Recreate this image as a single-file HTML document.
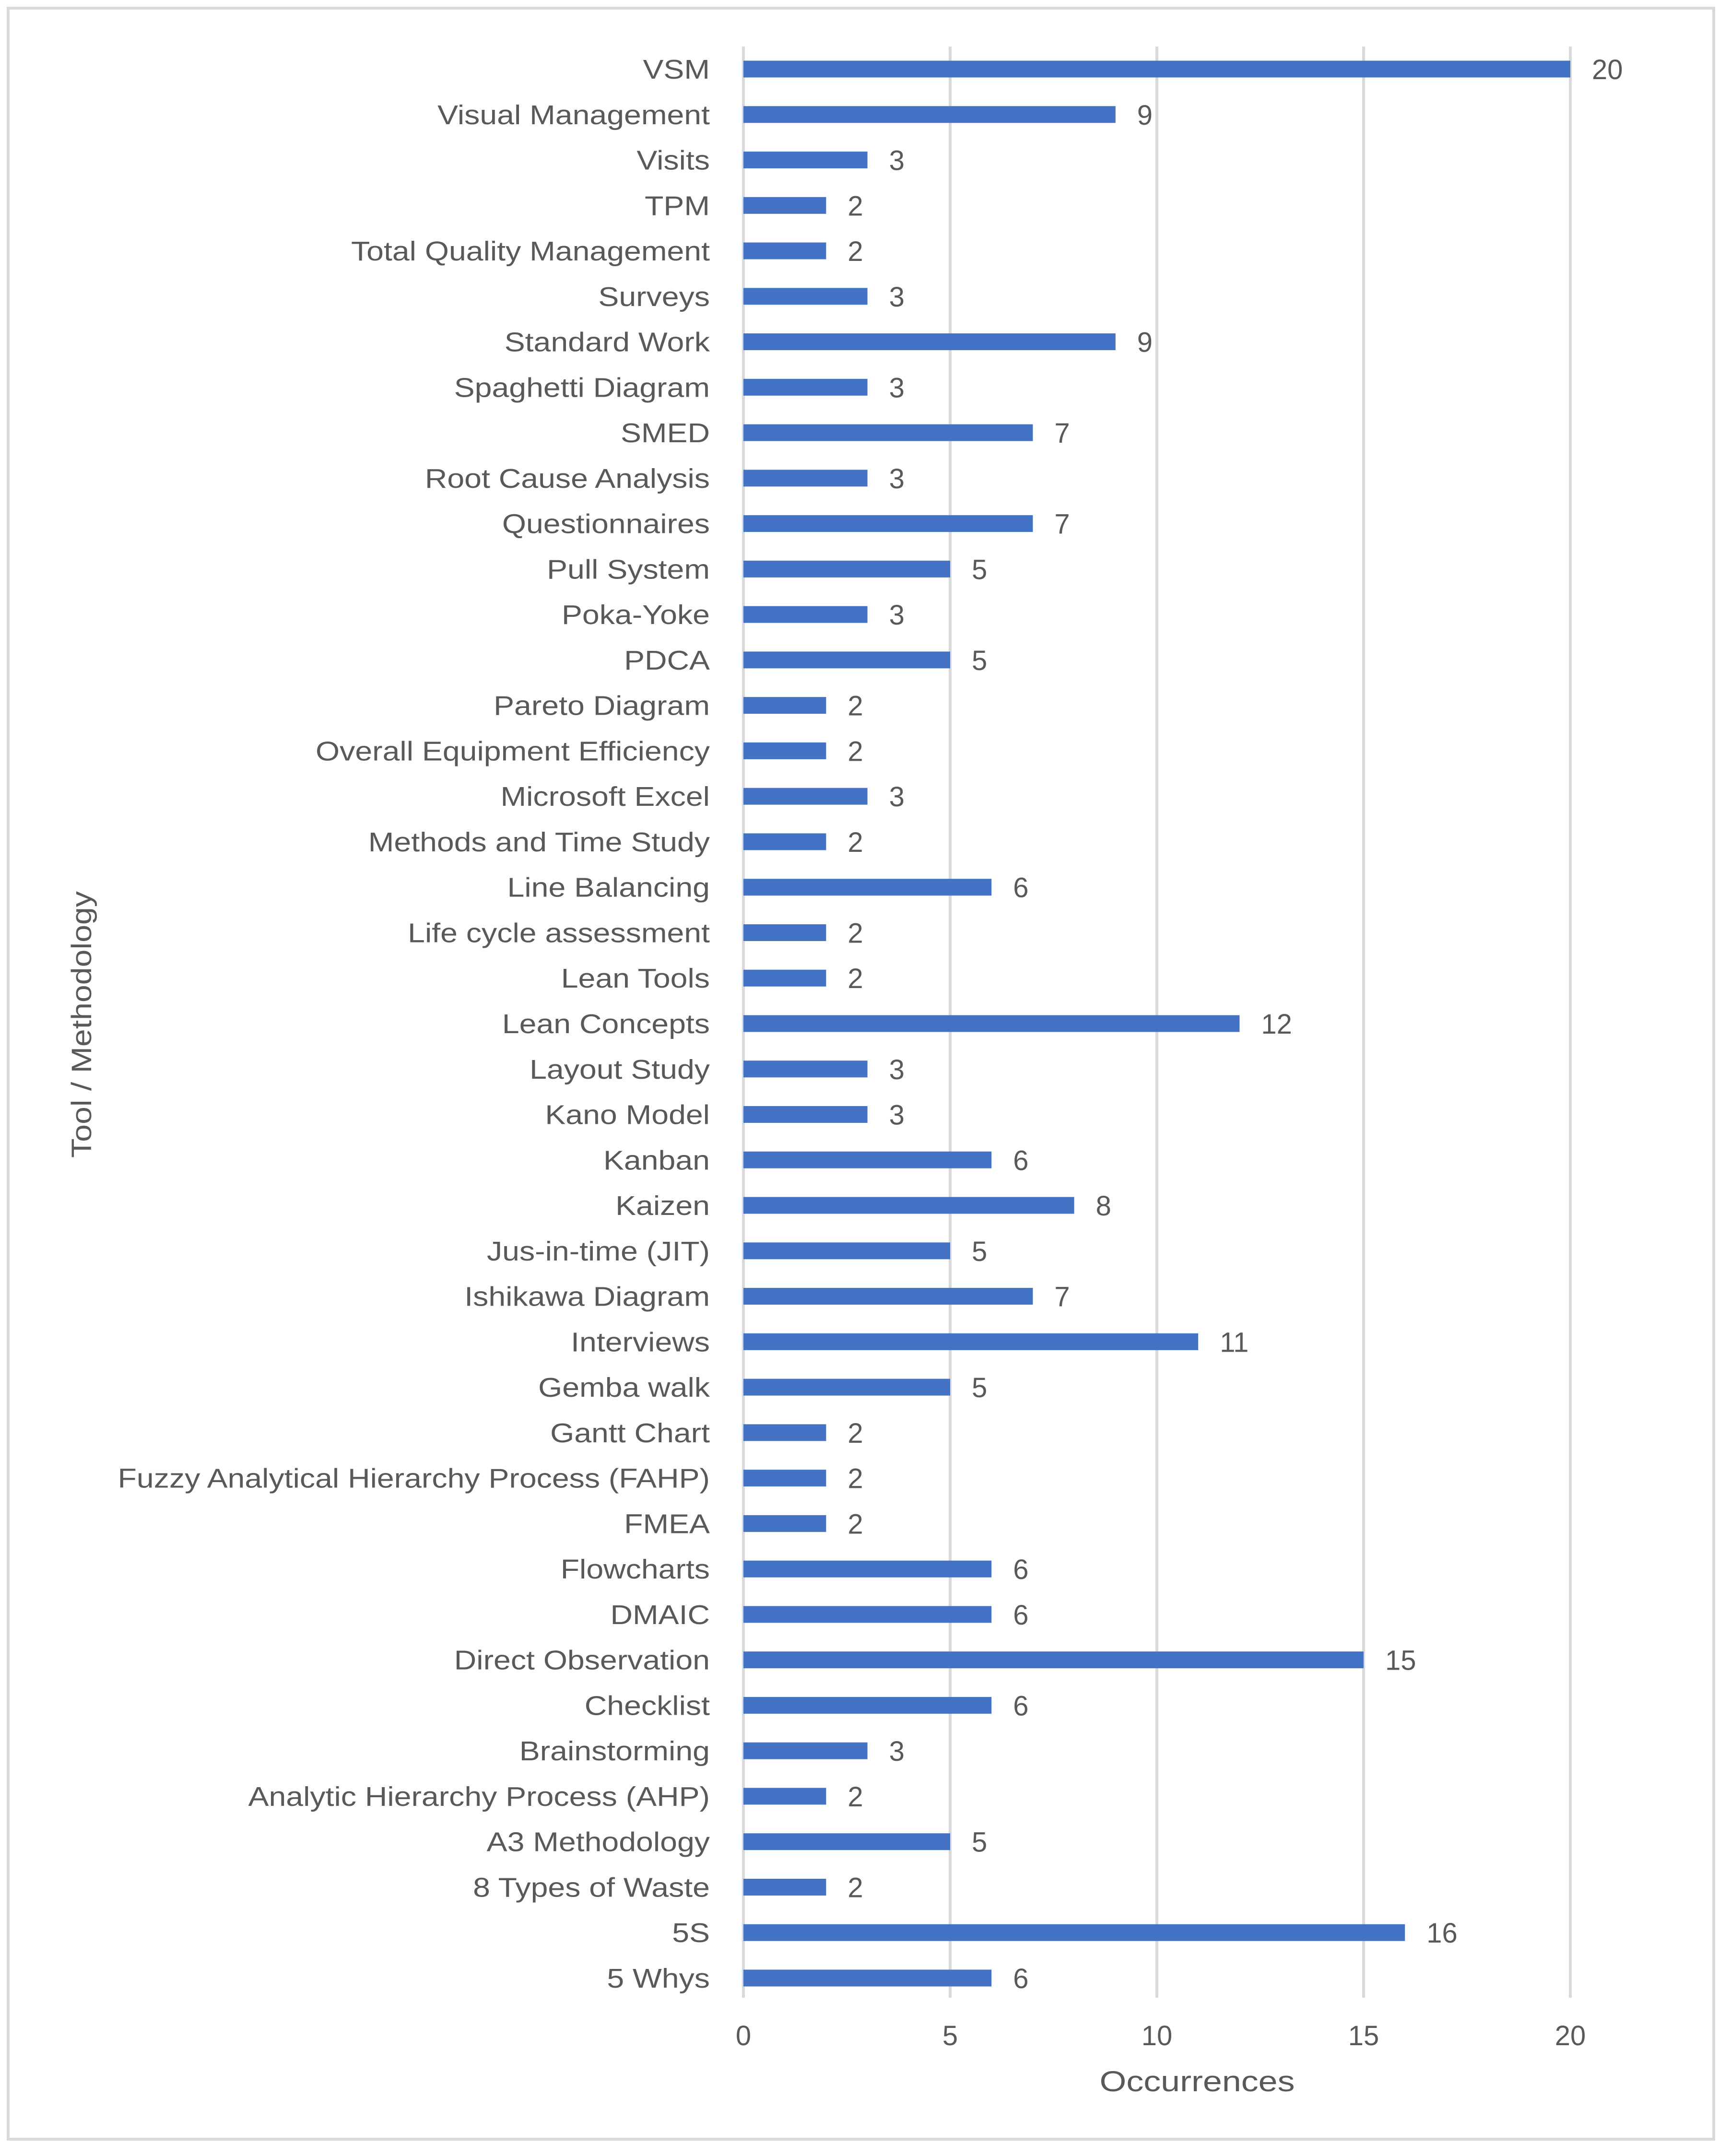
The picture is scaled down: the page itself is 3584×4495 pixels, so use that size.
<!DOCTYPE html>
<html><head><meta charset="utf-8"><style>
html,body{margin:0;padding:0;background:#fff;}
svg{display:block;}
text{font-family:"Liberation Sans",sans-serif;fill:#595959;}
</style></head><body>
<svg id="chart" width="3584" height="4495" viewBox="0 0 3584 4495" xmlns="http://www.w3.org/2000/svg">
<rect x="17" y="17" width="3556" height="4443" fill="#fff" stroke="#d9d9d9" stroke-width="6"/>
<g id="grid"></g><g id="bars"></g>
<g id="catlabels" transform="translate(1480,0) scale(1.13,1) translate(-1480,0)"></g>
<g id="labels"></g>
<text x="2496" y="4360" font-size="60" text-anchor="middle" textLength="407" lengthAdjust="spacingAndGlyphs">Occurrences</text>
<text transform="translate(190,2136) rotate(-90)" font-size="58" text-anchor="middle" textLength="556" lengthAdjust="spacingAndGlyphs">Tool / Methodology</text>
</svg>
<script>
const categories = ["VSM","Visual Management","Visits","TPM","Total Quality Management","Surveys","Standard Work","Spaghetti Diagram","SMED","Root Cause Analysis","Questionnaires","Pull System","Poka-Yoke","PDCA","Pareto Diagram","Overall Equipment Efficiency","Microsoft Excel","Methods and Time Study","Line Balancing","Life cycle assessment","Lean Tools","Lean Concepts","Layout Study","Kano Model","Kanban","Kaizen","Jus-in-time (JIT)","Ishikawa Diagram","Interviews","Gemba walk","Gantt Chart","Fuzzy Analytical Hierarchy Process (FAHP)","FMEA","Flowcharts","DMAIC","Direct Observation","Checklist","Brainstorming","Analytic Hierarchy Process (AHP)","A3 Methodology","8 Types of Waste","5S","5 Whys"];
const values = [20,9,3,2,2,3,9,3,7,3,7,5,3,5,2,2,3,2,6,2,2,12,3,3,6,8,5,7,11,5,2,2,2,6,6,15,6,3,2,5,2,16,6];
const xTicks = [0,5,10,15,20];

const NS="http://www.w3.org/2000/svg";
const x0=1550, x1=3274, xMax=20, yFirst=144, yLast=4124, barH=35, gridTop=97, gridBot=4165;
const xs=v=>x0+(x1-x0)*v/xMax;
const ys=i=>yFirst+(yLast-yFirst)*i/(categories.length-1);
function mk(tag,parent,attrs){const e=document.createElementNS(NS,tag);for(const k in attrs)e.setAttribute(k,attrs[k]);document.getElementById(parent).appendChild(e);return e;}
xTicks.forEach(t=>{
  const l=mk('line','grid',{x1:xs(t),x2:xs(t),y1:gridTop,y2:gridBot,stroke:'#d9d9d9','stroke-width':6});
  
  
  const tx=mk('text','labels',{x:xs(t),y:4264,'font-size':58,'text-anchor':'middle'});
  tx.textContent=t;
  
  
});
categories.forEach((c,i)=>{
  const y=ys(i), v=values[i];
  const r=mk('rect','bars',{x:x0,y:y-barH/2,width:xs(v)-x0,height:barH,fill:'#4472c4'});
  
  
  const lb=mk('text','catlabels',{x:1480,y:y+20,'font-size':57,'text-anchor':'end'});
  lb.textContent=c;
  
  
  const vl=mk('text','labels',{x:xs(v)+45,y:y+21,'font-size':58});
  vl.textContent=v;
  
  
});
</script>
</body></html>
